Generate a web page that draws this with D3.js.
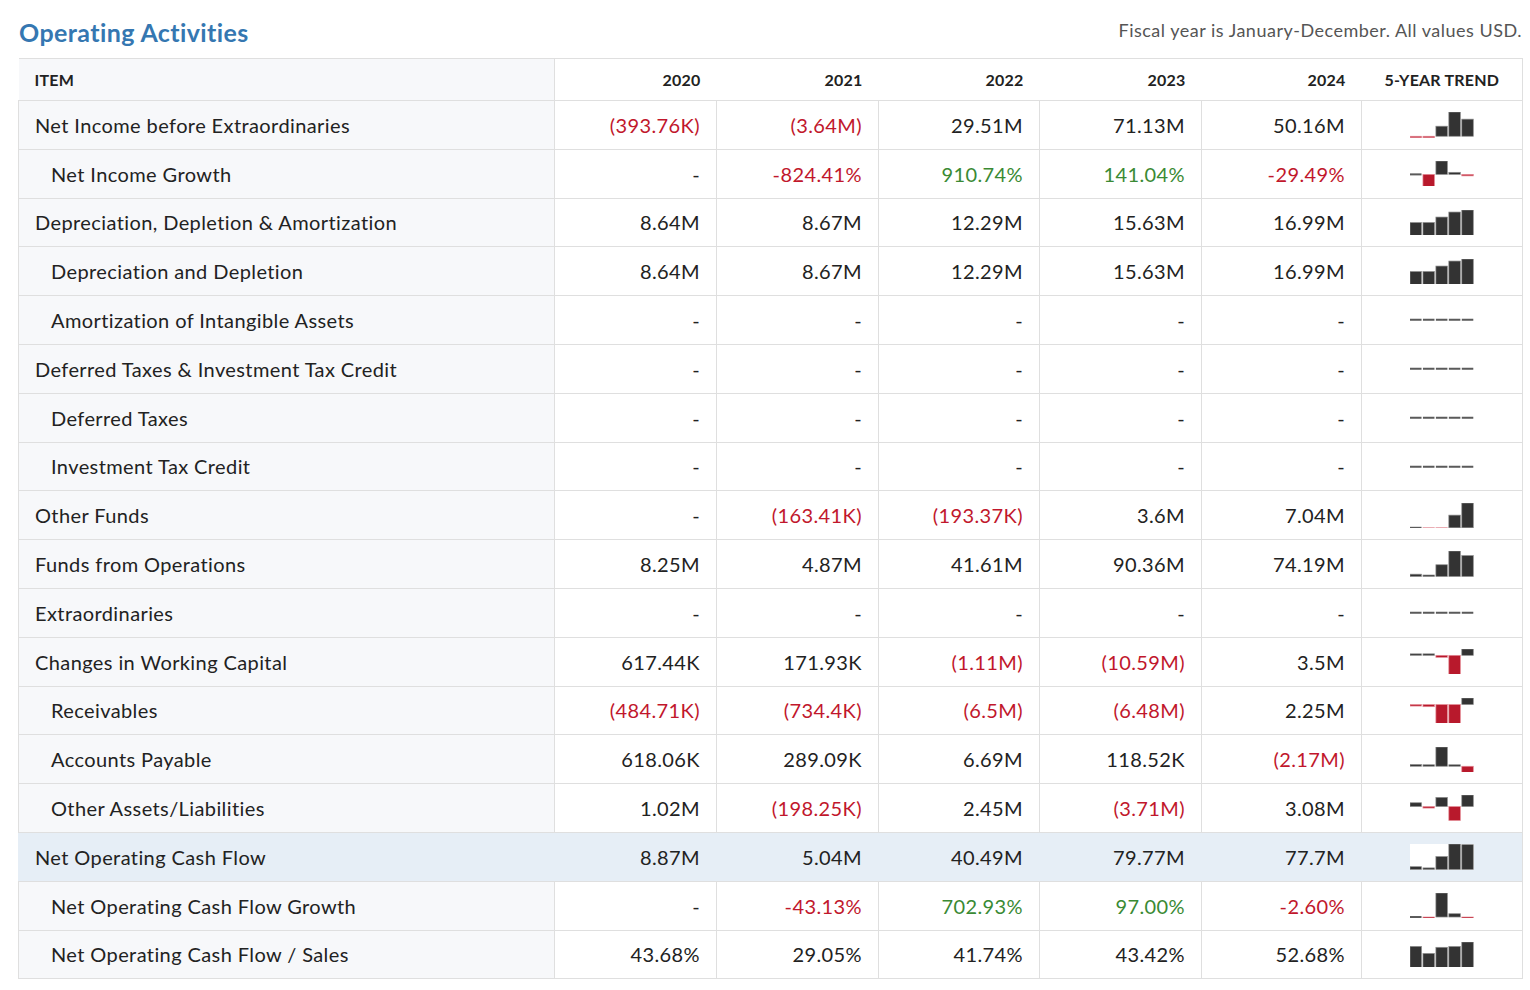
<!DOCTYPE html>
<html>
<head>
<meta charset="utf-8">
<script src="https://d3js.org/d3.v7.min.js"></script>
<style>
  body { margin: 0; background: #fff; font-family: Lato, "Noto Sans", sans-serif; color: #222; }
  .title { position: absolute; left: 19px; top: 18px; margin: 0; font-size: 25px; line-height: 28px;
           font-weight: 700; color: #3577b1; letter-spacing: 0.4px; }
  .note { position: absolute; right: 8px; top: 20px; font-size: 18px; line-height: 20px; color: #555;
          letter-spacing: 0.5px; }
  table { position: absolute; left: 18px; top: 58px; width: 1504px; border-collapse: collapse; table-layout: fixed; }
  th, td { border: 1px solid #dfdfdf; padding: 0 16px; white-space: nowrap; overflow: hidden; }
  th { height: 41px; font-size: 16px; font-weight: 700; text-align: right; background: #fff;
       border-left: none; border-right: none; letter-spacing: 0.2px; }
  th.item { text-align: left; background: #f7f8fa; border-right: 1px solid #dfdfdf; }
  th.trend { text-align: center; padding: 0; border-right: 1px solid #dfdfdf; }
  td { height: 47.8px; font-size: 20px; text-align: right; background: #fff; letter-spacing: 0.4px; }
  td.item { text-align: left; background: #f7f8fa; }
  td.sub { padding-left: 32px; }
  td.trend { padding: 0; }
  td.neg { color: #c1172c; }
  td.pos { color: #3a8a34; }
  tr.hl td { background: #e6eef6; border-left-color: #e6eef6; border-right-color: #e6eef6; }
  tr.hl td.trend { border-right-color: #dfdfdf; }
  svg.spark { display: block; margin: 0 auto; background: #fff; }
</style>
</head>
<body>
<h2 class="title">Operating Activities</h2>
<div class="note">Fiscal year is January-December. All values USD.</div>
<table id="tbl"></table>

<script>
var years = ["2020", "2021", "2022", "2023", "2024"];

var netIncome      = [-393760, -3640000, 29510000, 71130000, 50160000];
var netIncomeGr    = [null, -824.41, 910.74, 141.04, -29.49];
var deprAmort      = [8640000, 8670000, 12290000, 15630000, 16990000];
var deprDepl       = [8640000, 8670000, 12290000, 15630000, 16990000];
var amortIntang    = [null, null, null, null, null];
var defTaxesCredit = [null, null, null, null, null];
var defTaxes       = [null, null, null, null, null];
var invTaxCredit   = [null, null, null, null, null];
var otherFunds     = [null, -163410, -193370, 3600000, 7040000];
var fundsOps       = [8250000, 4870000, 41610000, 90360000, 74190000];
var extraord       = [null, null, null, null, null];
var workCapital    = [617440, 171930, -1110000, -10590000, 3500000];
var receivables    = [-484710, -734400, -6500000, -6480000, 2250000];
var payables       = [618060, 289090, 6690000, 118520, -2170000];
var otherAssets    = [1020000, -198250, 2450000, -3710000, 3080000];
var netOpCash      = [8870000, 5040000, 40490000, 79770000, 77700000];
var netOpCashGr    = [null, -43.13, 702.93, 97.00, -2.60];
var netOpCashSales = [43.68, 29.05, 41.74, 43.42, 52.68];

var labels = ["Net Income before Extraordinaries", "Net Income Growth",
  "Depreciation, Depletion & Amortization", "Depreciation and Depletion",
  "Amortization of Intangible Assets", "Deferred Taxes & Investment Tax Credit",
  "Deferred Taxes", "Investment Tax Credit", "Other Funds", "Funds from Operations",
  "Extraordinaries", "Changes in Working Capital", "Receivables", "Accounts Payable",
  "Other Assets/Liabilities", "Net Operating Cash Flow", "Net Operating Cash Flow Growth",
  "Net Operating Cash Flow / Sales"];
var levels = [0, 1, 0, 1, 1, 0, 1, 1, 0, 0, 0, 0, 1, 1, 1, 0, 1, 1];
var kinds = ["money", "growth", "money", "money", "money", "money", "money", "money", "money",
  "money", "money", "money", "money", "money", "money", "money", "growth", "ratio"];
var series = [netIncome, netIncomeGr, deprAmort, deprDepl, amortIntang, defTaxesCredit,
  defTaxes, invTaxCredit, otherFunds, fundsOps, extraord, workCapital, receivables,
  payables, otherAssets, netOpCash, netOpCashGr, netOpCashSales];
var highlight = "Net Operating Cash Flow";

function trim(s) { return s.replace(/\.?0+$/, ""); }

function fmt(v, kind) {
  if (v == null) return "-";
  if (kind != "money") return v.toFixed(2) + "%";
  var a = Math.abs(v);
  var s = a >= 1e6 ? trim((a / 1e6).toFixed(2)) + "M" : trim((a / 1e3).toFixed(2)) + "K";
  return v < 0 ? "(" + s + ")" : s;
}

function cls(v, kind) {
  if (v == null || kind == "ratio") return "";
  if (v < 0) return "neg";
  if (kind == "growth" && v > 0) return "pos";
  return "";
}

var rows = labels.map(function(l, i) {
  return { label: l, level: levels[i], kind: kinds[i], values: series[i] };
});

var table = d3.select("#tbl");
var colW = [536, 162, 162, 161, 162, 160, 161];
table.append("colgroup").selectAll("col").data(colW).join("col")
  .style("width", function(d) { return d + "px"; });

var head = table.append("thead").append("tr");
head.append("th").attr("class", "item").text("ITEM");
head.selectAll("th.yr").data(years).join("th").attr("class", "yr").text(function(d) { return d; });
head.append("th").attr("class", "trend").text("5-YEAR TREND");

var tr = table.append("tbody").selectAll("tr").data(rows).join("tr")
  .attr("class", function(d) { return d.label == highlight ? "hl" : null; });

tr.append("td")
  .attr("class", function(d) { return "item" + (d.level ? " sub" : ""); })
  .text(function(d) { return d.label; });

tr.each(function(d) {
  d3.select(this).selectAll("td.val").data(d.values).join("td")
    .attr("class", function(v) { return "val " + cls(v, d.kind); })
    .text(function(v) { return fmt(v, d.kind); });
});

// sparklines
var W = 63.3, H = 25.5;
var x = d3.scaleBand().domain(years).range([0, W]).paddingInner(0.11);

tr.append("td").attr("class", "trend").each(function(d) {
  var vals = d.values.filter(function(v) { return v != null; });
  var lo = Math.min(0, d3.min(vals) || 0), hi = Math.max(0, d3.max(vals) || 0);
  var y = d3.scaleLinear().domain(lo == hi ? [-1, 1] : [lo, hi]).range([H, 0]);
  var y0 = y(0);

  var svg = d3.select(this).append("svg").attr("class", "spark")
    .attr("width", W).attr("height", H);

  svg.selectAll("rect").data(d.values.map(function(v, i) { return { v: v, yr: years[i] }; }))
    .join("rect")
    .attr("x", function(p) { return x(p.yr); })
    .attr("width", x.bandwidth())
    .attr("y", function(p) {
      if (p.v == null) return y0 - 1;
      var h = Math.max(Math.abs(y(p.v) - y0), 1.5);
      return p.v < 0 ? y0 : y0 - h;
    })
    .attr("height", function(p) {
      if (p.v == null) return 2;
      return Math.max(Math.abs(y(p.v) - y0), 1.5);
    })
    .attr("fill", function(p) { return p.v == null ? "#5a5a5a" : p.v < 0 ? "#b8192c" : "#333"; })
    .attr("stroke", function(p) { return p.v == null ? "none" : p.v < 0 ? "#e48a95" : "#8e8e8e"; })
    .attr("stroke-width", 0.7);
});
</script>
</body>
</html>
